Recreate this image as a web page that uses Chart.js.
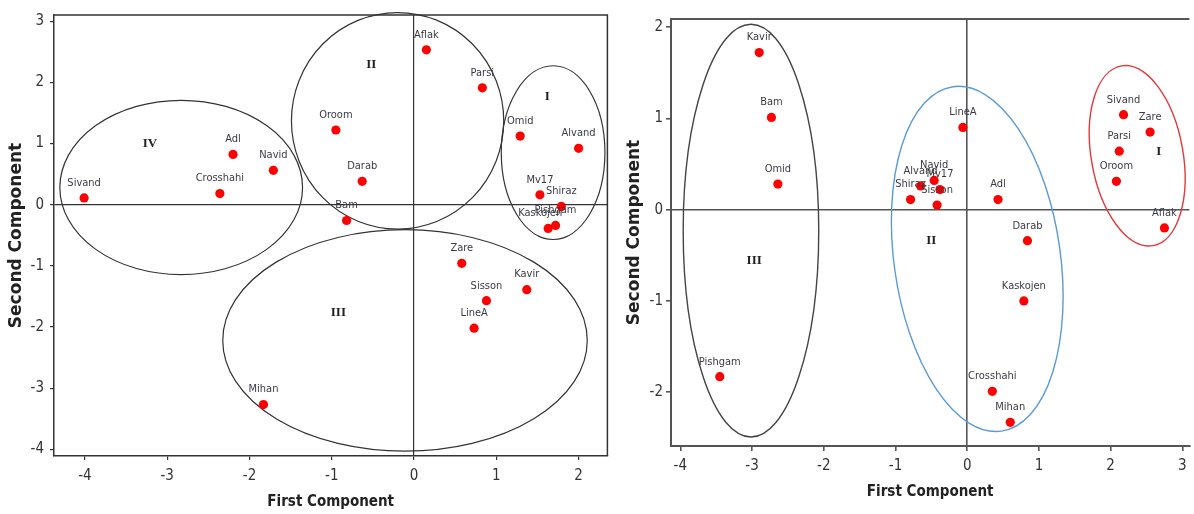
<!DOCTYPE html>
<html>
<head>
<meta charset="utf-8">
<title>PCA scatter plots</title>
<script src="https://cdn.jsdelivr.net/npm/chart.js@4.4.1/dist/chart.umd.min.js"></script>
<style>
  body { margin: 0; background: #fff; }
  #wrap { position: relative; width: 1194px; height: 514px; overflow: hidden; }
  canvas { position: absolute; top: 0; }
  #leftChart { left: 0; }
  #rightChart { left: 612px; }
</style>
</head>
<body>
<div id="wrap">
  <canvas id="leftChart" width="612" height="514"></canvas>
  <canvas id="rightChart" width="582" height="514"></canvas>
</div>
<script>
// ---- left panel ----
const leftNames = ['Sivand', 'Crosshahi', 'Adl', 'Navid', 'Oroom', 'Darab', 'Bam', 'Aflak', 'Parsi', 'Omid',
  'Alvand', 'Mv17', 'Shiraz', 'Kaskojen', 'Pishgam', 'Zare', 'Kavir', 'Sisson', 'LineA', 'Mihan'];
const leftX = [-4.01, -2.36, -2.20, -1.71, -0.95, -0.63, -0.82, 0.15, 0.83, 1.29,
  2.00, 1.53, 1.79, 1.63, 1.72, 0.58, 1.37, 0.88, 0.73, -1.83];
const leftY = [0.11, 0.18, 0.82, 0.56, 1.22, 0.38, -0.26, 2.53, 1.91, 1.12,
  0.92, 0.16, -0.03, -0.39, -0.34, -0.96, -1.39, -1.57, -2.02, -3.27];
const leftXTicks = [-4, -3, -2, -1, 0, 1, 2];
const leftYTicks = [-4, -3, -2, -1, 0, 1, 2, 3];

// groups (ellipse centre / radii in component units, label position)
const leftGroups = ['I', 'II', 'III', 'IV'];
const leftGroupCx = [1.69, -0.20, -0.11, -2.83];
const leftGroupCy = [0.85, 1.37, -2.22, 0.28];
const leftGroupRx = [0.63, 1.29, 2.215, 1.475];
const leftGroupRy = [1.42, 1.77, 1.81, 1.425];
const leftGroupTilt = [0, 0, 0, 0];
const leftGroupLabelX = [1.62, -0.52, -0.92, -3.21];
const leftGroupLabelY = [1.76, 2.29, -1.77, 1.0];

// ---- right panel ----
const rightNames = ['Kavir', 'Bam', 'Omid', 'Pishgam', 'Shiraz', 'Alvand', 'Navid', 'Mv17', 'Sisson', 'LineA',
  'Adl', 'Darab', 'Kaskojen', 'Crosshahi', 'Mihan', 'Sivand', 'Zare', 'Parsi', 'Oroom', 'Aflak'];
const rightX = [-2.90, -2.73, -2.64, -3.45, -0.79, -0.65, -0.46, -0.38, -0.42, -0.06,
  0.43, 0.84, 0.79, 0.35, 0.60, 2.18, 2.55, 2.12, 2.08, 2.75];
const rightY = [1.72, 1.01, 0.28, -1.83, 0.11, 0.26, 0.32, 0.22, 0.05, 0.90,
  0.11, -0.34, -1.00, -1.99, -2.33, 1.04, 0.85, 0.64, 0.31, -0.20];
const rightXTicks = [-4, -3, -2, -1, 0, 1, 2, 3];
const rightYTicks = [-2, -1, 0, 1, 2];

const rightGroups = ['I', 'II', 'III'];
const rightGroupCx = [2.37, 0.14, -3.015];
const rightGroupCy = [0.59, -0.54, -0.23];
const rightGroupRx = [0.64, 1.16, 0.945];
const rightGroupRy = [1.0, 1.905, 2.26];
const rightGroupTilt = [-10, -8, 0];
const rightGroupLabelX = [2.67, -0.50, -2.97];
const rightGroupLabelY = [0.63, -0.34, -0.56];

// styles
const labelFont = '11px "DejaVu Sans Condensed", "DejaVu Sans", sans-serif';
const romanFont = 'bold 13px "Liberation Serif", "DejaVu Serif", serif';
const tickFont = { family: '"DejaVu Sans Condensed", "DejaVu Sans", sans-serif', size: 15 };
const leftEllipseColors = ['#333', '#333', '#333', '#333'];
const rightEllipseColors = ['#e0393c', '#5b9bd5', '#444'];
const labelShift = { left: { Kaskojen: -8 }, right: {} };

// Plugin: frame lines, ellipses, point names and group numerals
function overlayPlugin(side, groups) {
  return {
    id: 'overlay_' + side,
    beforeDatasetsDraw(chart) {
      const ctx = chart.ctx;
      const xs = chart.scales.x, ys = chart.scales.y;
      const a = chart.chartArea;
      ctx.save();
      // frame
      ctx.strokeStyle = side === 'left' ? '#333' : '#555';
      ctx.lineWidth = side === 'left' ? 1.5 : 2;
      ctx.beginPath();
      ctx.moveTo(a.left, a.top);
      ctx.lineTo(a.right, a.top);
      if (side === 'left') ctx.lineTo(a.right, a.bottom);
      ctx.stroke();
      // ellipses
      groups.names.forEach((g, i) => {
        const cx = xs.getPixelForValue(groups.cx[i]);
        const cy = ys.getPixelForValue(groups.cy[i]);
        const rx = Math.abs(xs.getPixelForValue(groups.cx[i] + groups.rx[i]) - cx);
        const ry = Math.abs(ys.getPixelForValue(groups.cy[i] + groups.ry[i]) - cy);
        ctx.strokeStyle = groups.colors[i];
        ctx.lineWidth = side === 'left' ? 1.2 : 1.4;
        ctx.beginPath();
        ctx.ellipse(cx, cy, rx, ry, groups.tilt[i] * Math.PI / 180, 0, Math.PI * 2);
        ctx.stroke();
        // numeral
        ctx.fillStyle = '#222';
        ctx.font = romanFont;
        ctx.textAlign = 'center';
        ctx.textBaseline = 'middle';
        ctx.fillText(g, xs.getPixelForValue(groups.lx[i]), ys.getPixelForValue(groups.ly[i]));
      });
      ctx.restore();
    },
    afterDatasetsDraw(chart) {
      const ctx = chart.ctx;
      const meta = chart.getDatasetMeta(0);
      const names = chart.data.datasets[0].names;
      ctx.save();
      ctx.font = labelFont;
      ctx.fillStyle = '#3a3a44';
      ctx.textAlign = 'center';
      ctx.textBaseline = 'middle';
      meta.data.forEach((pt, i) => {
        const dx = labelShift[side][names[i]] || 0;
        ctx.fillText(names[i], pt.x + dx, pt.y - 15);
      });
      ctx.restore();
    }
  };
}

function makeChart(id, side, names, xv, yv, xTicks, yTicks, range, box, groups) {
  const points = names.map((n, i) => ({ x: xv[i], y: yv[i] }));
  const zeroLine = c => (c.tick && c.tick.value === 0) ? (side === 'left' ? '#333' : '#555') : 'transparent';
  return new Chart(document.getElementById(id), {
    type: 'scatter',
    data: {
      datasets: [{
        data: points,
        names: names,
        pointRadius: 4.6,
        pointBackgroundColor: '#ff0000',
        pointBorderWidth: 0,
        pointHoverRadius: 4.6
      }]
    },
    options: {
      responsive: false,
      animation: false,
      devicePixelRatio: 1,
      layout: { padding: { top: box.top, right: 0, left: 0, bottom: 0 } },
      plugins: { legend: { display: false }, tooltip: { enabled: false } },
      scales: {
        x: {
          type: 'linear',
          min: range.xmin, max: range.xmax,
          afterBuildTicks: s => { s.ticks = xTicks.map(v => ({ value: v })); },
          afterFit: s => { s.height = box.xh; s.paddingLeft = 0; s.paddingRight = 0; },
          ticks: { color: '#333', font: tickFont, padding: box.xpad, maxRotation: 0, callback: v => v },
          grid: { color: zeroLine, tickColor: side === 'left' ? '#333' : '#555', tickLength: box.tl, lineWidth: side === 'left' ? 1.2 : 1.6 },
          border: { display: true, color: side === 'left' ? '#333' : '#555', width: side === 'left' ? 1.5 : 2 },
          title: {
            display: true, text: 'First Component', color: '#222',
            font: { family: '"DejaVu Sans Condensed", "DejaVu Sans", sans-serif', size: 15, weight: 'bold' },
            padding: { top: 0, bottom: box.xtpad }
          }
        },
        y: {
          type: 'linear',
          min: range.ymin, max: range.ymax,
          afterBuildTicks: s => { s.ticks = yTicks.map(v => ({ value: v })); },
          afterFit: s => { s.width = box.yw; s.paddingTop = 0; s.paddingBottom = 0; },
          ticks: { color: '#333', font: tickFont, padding: box.ypad, callback: v => v },
          grid: { color: zeroLine, tickColor: side === 'left' ? '#333' : '#555', tickLength: box.tl, lineWidth: side === 'left' ? 1.2 : 1.6 },
          border: { display: true, color: side === 'left' ? '#333' : '#555', width: side === 'left' ? 1.5 : 2 },
          title: {
            display: true, text: 'Second Component', color: '#222',
            font: { family: '"DejaVu Sans", sans-serif', size: 17, weight: 'bold' },
            padding: { top: box.ytpad, bottom: 0 }
          }
        }
      }
    },
    plugins: [overlayPlugin(side, groups)]
  });
}

makeChart('leftChart', 'left', leftNames, leftX, leftY, leftXTicks, leftYTicks,
  { xmin: -4.376, xmax: 2.35, ymin: -4.11, ymax: 3.1 },
  { top: 15, yw: 54, xh: 58, tl: 4, xpad: 7, ypad: 6, xtpad: 3, ytpad: 6 },
  { names: leftGroups, cx: leftGroupCx, cy: leftGroupCy, rx: leftGroupRx, ry: leftGroupRy,
    tilt: leftGroupTilt, lx: leftGroupLabelX, ly: leftGroupLabelY, colors: leftEllipseColors });

makeChart('rightChart', 'right', rightNames, rightX, rightY, rightXTicks, rightYTicks,
  { xmin: -4.13, xmax: 3.098, ymin: -2.589, ymax: 2.088 },
  { top: 19, yw: 59, xh: 68, tl: 5, xpad: 6, ypad: 3, xtpad: 13, ytpad: 12 },
  { names: rightGroups, cx: rightGroupCx, cy: rightGroupCy, rx: rightGroupRx, ry: rightGroupRy,
    tilt: rightGroupTilt, lx: rightGroupLabelX, ly: rightGroupLabelY, colors: rightEllipseColors });
</script>
</body>
</html>
